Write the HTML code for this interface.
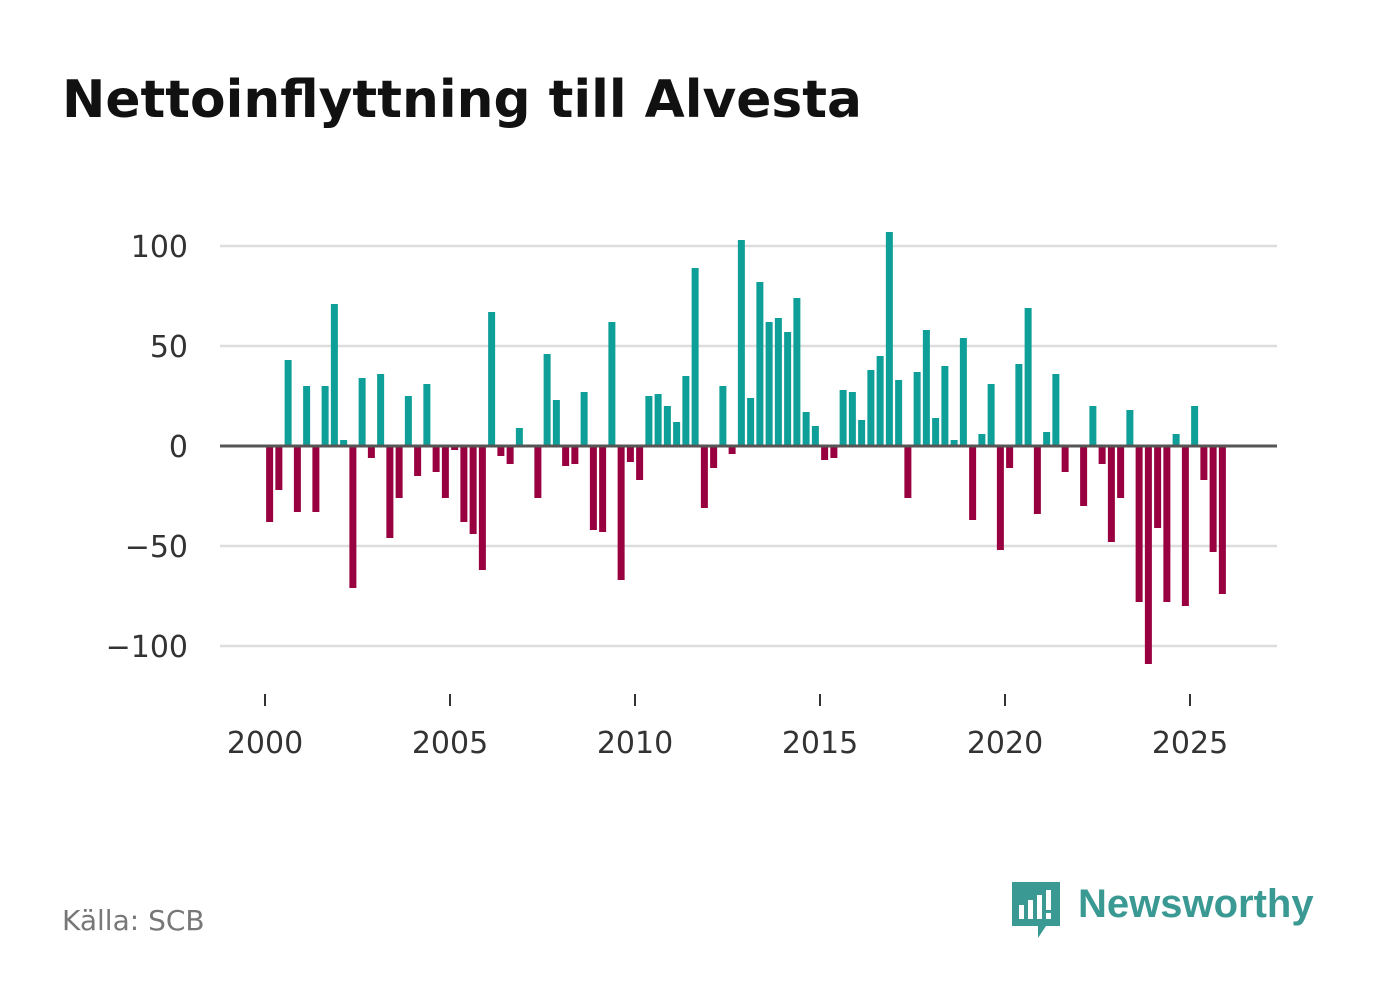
<!DOCTYPE html>
<html><head><meta charset="utf-8"><style>
body{margin:0;background:#fff;width:1382px;height:999px;overflow:hidden;font-family:"DejaVu Sans","Liberation Sans",sans-serif}
</style></head><body>
<svg width="1382" height="999">
<text x="62" y="117" font-size="52" font-weight="bold" fill="#111" textLength="800" lengthAdjust="spacingAndGlyphs">Nettoinflyttning till Alvesta</text>
<g id="grid"></g><g id="bars"></g><g id="axes"></g>
<text x="62" y="930" font-size="28" fill="#777">Källa: SCB</text>
<g>
<path d="M1012 882h48v44h-14l-8 12v-12h-26z" fill="#3a9a93"/>
<rect x="1019" y="905" width="5" height="14" fill="#fff"/><rect x="1028" y="900" width="5" height="19" fill="#fff"/><rect x="1037" y="895" width="5" height="24" fill="#fff"/><rect x="1046" y="890" width="5" height="20" fill="#fff"/><rect x="1046" y="913" width="5" height="6" fill="#fff"/>
<text x="1078" y="917" font-size="40" font-weight="bold" fill="#3a9a93" font-family="Liberation Sans, sans-serif">Newsworthy</text>
</g>
</svg>
<script>
const startYear=2000;
const values=[-38,-22,43,-33,30,-33,30,71,3,-71,34,-6,36,-46,-26,25,-15,31,-13,-26,-2,-38,-44,-62,67,-5,-9,9,0,-26,46,23,-10,-9,27,-42,-43,62,-67,-8,-17,25,26,20,12,35,89,-31,-11,30,-4,103,24,82,62,64,57,74,17,10,-7,-6,28,27,13,38,45,107,33,-26,37,58,14,40,3,54,-37,6,31,-52,-11,41,69,-34,7,36,-13,0,-30,20,-9,-48,-26,18,-78,-109,-41,-78,6,-80,20,-17,-53,-74];
const yTicks=[100,50,0,-50,-100];
const yTickLabels=["100","50","0","−50","−100"];
const xTicks=[2000,2005,2010,2015,2020,2025];
const NS="http://www.w3.org/2000/svg";
const x=yr=>265+(yr-2000)*37;
const y=v=>446-v*2;
function mk(t,a,p){const e=document.createElementNS(NS,t);for(const k in a)e.setAttribute(k,a[k]);document.getElementById(p).appendChild(e);return e;}
yTicks.forEach((t,i)=>{
 const l=mk('line',{x1:220,x2:1277,y1:y(t),y2:y(t),stroke:t===0?'#555':'#ddd','stroke-width':t===0?3:2.5},t===0?'axes':'grid');
 
 
 const tx=mk('text',{x:188,y:y(t)+11,'font-size':30,fill:'#333','text-anchor':'end'},'axes');
 tx.textContent=yTickLabels[i];
 
 
});
xTicks.forEach(t=>{
 const l=mk('line',{x1:x(t),x2:x(t),y1:694,y2:706,stroke:'#333','stroke-width':2},'axes');
 
 
 const tx=mk('text',{x:x(t),y:753,'font-size':30,fill:'#333','text-anchor':'middle'},'axes');
 tx.textContent=t;
 
 
});
values.forEach((v,i)=>{
 const cx=x(startYear+0.125+i*0.25);
 const r=mk('rect',{x:cx-3.5,width:7,y:Math.min(y(v),y(0)),height:Math.abs(y(v)-y(0)),fill:v>=0?'#0e9f99':'#990040'},'bars');
 
 
});
</script>
</body></html>
